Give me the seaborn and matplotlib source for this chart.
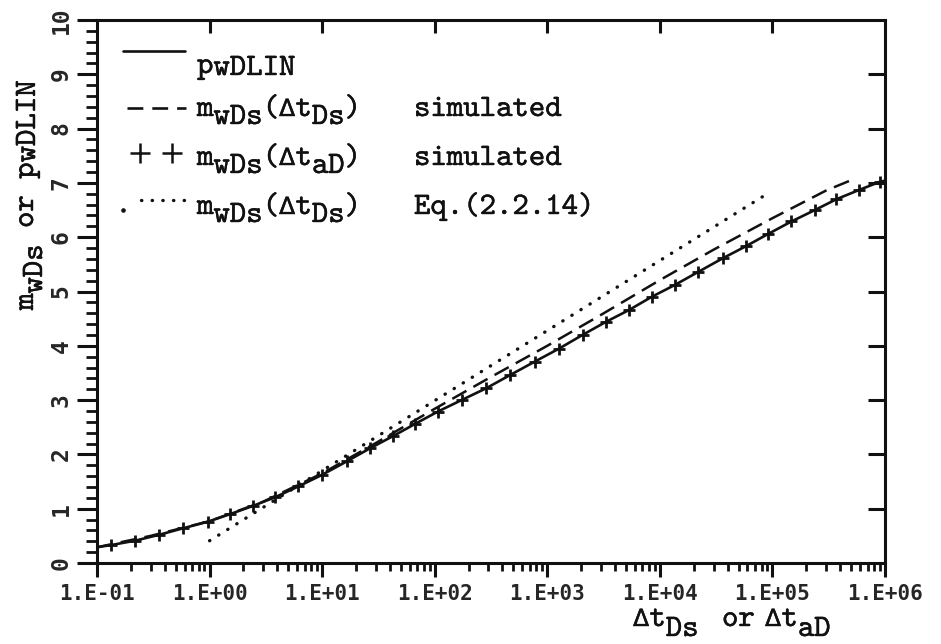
import numpy as np
import pandas as pd
import matplotlib
matplotlib.use("Agg")
import matplotlib.pyplot as plt
from matplotlib.lines import Line2D
import matplotlib.patheffects as pe
import seaborn as sns

# ---------------- data ----------------
t_lin = [0.1, 0.133, 0.217, 0.357, 0.583, 0.962, 1.52, 2.42, 3.81, 6.14, 9.91,
         16.5, 26.5, 42.9, 66.7, 107, 173, 288, 466, 776, 1276, 2056, 3311,
         5333, 8433, 13580, 21880, 36060, 57680, 91620, 147600, 238300,
         370700, 588800, 899500, 1e6]
p_lin = [0.29, 0.33, 0.41, 0.52, 0.64, 0.76, 0.90, 1.05, 1.21, 1.41, 1.62,
         1.87, 2.11, 2.34, 2.56, 2.79, 3.00, 3.22, 3.46, 3.71, 3.95, 4.20, 4.44,
         4.66, 4.90, 5.12, 5.36, 5.61, 5.83, 6.06, 6.29, 6.50,
         6.70, 6.87, 7.02, 7.04]

t_aD = [0.133, 0.217, 0.357, 0.583, 0.962, 1.52, 2.42, 3.81, 6.14, 9.91,
        16.5, 26.5, 42.9, 66.7, 107, 173, 288, 466, 776, 1276, 2056, 3311,
        5333, 8433, 13580, 21880, 36060, 57680, 91620, 147600, 238300,
        370700, 588800, 899500]
m_aD = [0.33, 0.41, 0.52, 0.64, 0.76, 0.90, 1.05, 1.21, 1.41, 1.62,
        1.87, 2.11, 2.34, 2.56, 2.79, 3.00, 3.22, 3.46, 3.71, 3.95, 4.20, 4.44,
        4.66, 4.90, 5.12, 5.36, 5.61, 5.83, 6.06, 6.29, 6.50,
        6.70, 6.87, 7.02]

t_Ds = [0.1, 0.3, 1, 3, 10, 30, 100, 300, 1000, 3000, 1e4, 3e4, 1e5, 3e5, 5e5]
m_Ds = [0.29, 0.50, 0.77, 1.13, 1.65, 2.21, 2.84, 3.40, 4.00, 4.57, 5.21,
        5.77, 6.35, 6.86, 7.05]

t_eq = [1, 10, 100, 1000, 1e4, 9e4]
m_eq = [0.41, 1.70, 2.99, 4.28, 5.57, 6.80]

xticks = [0.1, 1, 10, 100, 1e3, 1e4, 1e5, 1e6]
xtick_labels = ["1.E-01", "1.E+00", "1.E+01", "1.E+02", "1.E+03",
                "1.E+04", "1.E+05", "1.E+06"]
yticks = [0, 1, 2, 3, 4, 5, 6, 7, 8, 9, 10]
ytick_labels = ["0", "1", "2", "3", "4", "5", "6", "7", "8", "9", "10"]

# ---------------- style ----------------
sns.set_style("white")
plt.rcParams["font.family"] = ["cmtt10", "DejaVu Sans"]

W, H = 941, 644
fig = plt.figure(figsize=(W / 100, H / 100), dpi=100)
fig.patch.set_facecolor("white")

L, R, T, B = 97, 885, 20, 563
ax = fig.add_axes([L / W, 1 - B / H, (R - L) / W, (B - T) / H])
ax.set_xscale("log")
ax.set_xlim(0.1, 1e6)
ax.set_ylim(0, 10)

ink = "#111111"

df_lin = pd.DataFrame({"t": t_lin, "p": p_lin})
df_aD = pd.DataFrame({"t": t_aD, "m": m_aD})
df_Ds = pd.DataFrame({"t": t_Ds, "m": m_Ds})
df_eq = pd.DataFrame({"t": t_eq, "m": m_eq})

sns.lineplot(data=df_Ds, x="t", y="m", ax=ax, color=ink, lw=1.8,
             linestyle=(0, (6.5, 3.2)), errorbar=None, sort=True)
sns.lineplot(data=df_eq, x="t", y="m", ax=ax, color=ink, lw=2.4,
             linestyle=(0, (0.1, 3.1)), dash_capstyle="round",
             errorbar=None, sort=True)
sns.lineplot(data=df_lin, x="t", y="p", ax=ax, color=ink, lw=1.9,
             errorbar=None, sort=True)
sns.scatterplot(data=df_aD, x="t", y="m", ax=ax, color=ink, marker="+",
                s=85, linewidth=2.0, zorder=5)

ax.set_xlabel("")
ax.set_ylabel("")

for sp in ax.spines.values():
    sp.set_visible(True)
    sp.set_color(ink)
    sp.set_linewidth(2.2)

tick_font = dict(family="DejaVu Sans Mono", fontweight="bold")

# bottom ticks (outward, with minor)
ax.set_xticks(xticks)
ax.set_xticklabels(xtick_labels, fontsize=15, **tick_font)
ax.xaxis.set_minor_locator(matplotlib.ticker.LogLocator(base=10, subs=np.arange(2, 10)))
ax.xaxis.set_minor_formatter(matplotlib.ticker.NullFormatter())
ax.tick_params(axis="x", which="major", direction="out", length=10, width=2.2,
               color=ink, pad=5, bottom=True, top=False)
ax.tick_params(axis="x", which="minor", direction="out", length=5.5, width=2,
               color=ink, bottom=True, top=False)

# left ticks (outward, with minor)
ax.set_yticks(yticks)
ax.set_yticklabels(ytick_labels, fontsize=16.5, rotation=90, va="center",
                   **tick_font)
ax.yaxis.set_minor_locator(matplotlib.ticker.MultipleLocator(0.2))
ax.tick_params(axis="y", which="major", direction="out", length=14.5, width=2.2,
               color=ink, pad=3, left=True, right=False)
ax.tick_params(axis="y", which="minor", direction="out", length=8, width=2,
               color=ink, left=True, right=False)

# right ticks (inward, integers)
axr = ax.twinx()
axr.set_ylim(0, 10)
axr.set_yticks(yticks[1:-1])
axr.set_yticklabels([])
axr.tick_params(axis="y", which="major", direction="in", length=12.5, width=2.2,
                color=ink, right=True, left=False)
for sp in axr.spines.values():
    sp.set_visible(False)

# top ticks (inward, decades)
axt = ax.twiny()
axt.set_xscale("log")
axt.set_xlim(0.1, 1e6)
axt.set_xticks(xticks[1:-1])
axt.set_xticklabels([])
axt.xaxis.set_minor_locator(matplotlib.ticker.NullLocator())
axt.tick_params(axis="x", which="major", direction="in", length=9.5, width=2.2,
                color=ink, top=True, bottom=False)
for sp in axt.spines.values():
    sp.set_visible(False)

# ---------------- typewriter text helper ----------------
FS = 22.5
CW = 0.525 * FS * 100 / 72  # cmtt10 char advance in px
GREEK = dict(family="DejaVu Sans", fontsize=17)
STROKE = [pe.withStroke(linewidth=0.3, foreground=ink)]


def rich(x, y, segs, rot=False):
    pos = 0.0
    for s, dy in segs:
        kw = dict(fontsize=FS, family=["cmtt10", "DejaVu Sans"])
        if s == "Δ":
            kw = dict(GREEK)
        if not rot:
            fig.text((x + pos) / W, 1 - (y + dy) / H, s, ha="left",
                     va="baseline", color=ink, path_effects=STROKE, **kw)
        else:
            fig.text((x + dy) / W, 1 - (y - pos) / H, s,
                     rotation=90, rotation_mode="anchor",
                     ha="left", va="baseline", color=ink,
                     path_effects=STROKE, **kw)
        pos += len(s) * CW


# legend samples (figure pixel coords)
def fl(xs, ys, **kw):
    fig.add_artist(Line2D([x / W for x in xs], [1 - y / H for y in ys],
                          transform=fig.transFigure, color=ink, **kw))


fl([123, 185], [51, 51], lw=1.9)
fl([127, 186], [108, 108], lw=1.9, linestyle=(0, (6.0, 3.4)))
fl([140, 172], [153, 153], lw=0, marker="+", markersize=14, mew=1.8)
fl([123], [210], lw=0, marker="o", markersize=2.3)
fl([141, 185], [200, 200], lw=2.4, linestyle=(0, (0.1, 3.1)),
   dash_capstyle="round")

rich(197, 73, [("p", 0), ("wDLIN", 2)])
rich(197, 116, [("m", 0), ("wDs", 8), ("(", 0), ("Δ", 0), ("t", 0), ("Ds", 8), (")", 0)])
rich(414, 116, [("simulated", 0)])
rich(197, 165, [("m", 0), ("wDs", 8), ("(", 0), ("Δ", 0), ("t", 0), ("aD", 8), (")", 0)])
rich(414, 165, [("simulated", 0)])
rich(197, 214, [("m", 0), ("wDs", 8), ("(", 0), ("Δ", 0), ("t", 0), ("Ds", 8), (")", 0)])
rich(414, 214, [("Eq.(2.2.14)", 0)])

# axis labels
rich(33, 310, [("m", 0), ("wDs", 9), (" or ", 0), ("p", 0), ("wDLIN", 2)], rot=True)
rich(633, 626, [("Δ", 0), ("t", 0), ("Ds", 10)])
rich(722, 626, [("or", 0)])
rich(765, 626, [("Δ", 0), ("t", 0), ("aD", 10)])

fig.savefig("out.png", dpi=100, facecolor="white")
